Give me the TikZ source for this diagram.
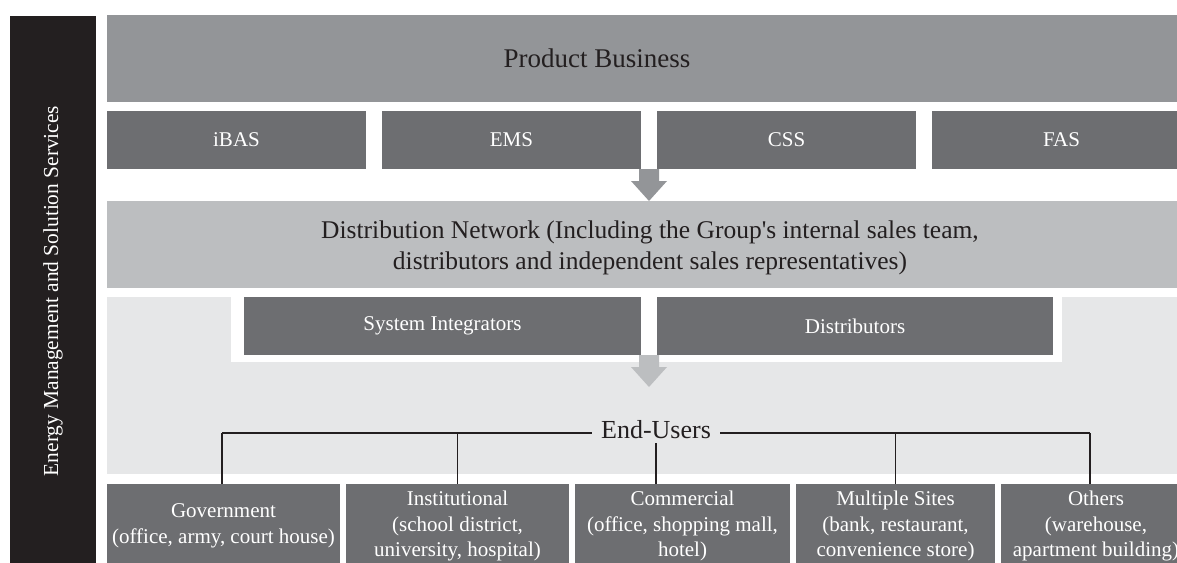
\documentclass[tikz,border=0pt]{standalone}
\usepackage{fontspec}
\setmainfont{Liberation Serif}[Ligatures=TeXOff]
\usetikzlibrary{positioning,calc}

\definecolor{barblack}{HTML}{231F20}
\definecolor{midgray}{HTML}{939598}
\definecolor{darkgray}{HTML}{6D6E71}
\definecolor{palegray}{HTML}{BCBEC0}
\definecolor{lightgray}{HTML}{E6E7E8}

\tikzset{
  panel/.style={draw=none,inner sep=0pt,outer sep=0pt},
  darkbox/.style={panel,fill=darkgray,text=white,align=center,
    font=\fontsize{21}{25.5}\selectfont},
  bigtext/.style={text=barblack,align=center,font=\fontsize{26}{31}\selectfont},
  tree/.style={draw=barblack,line width=1.2pt}
}
% block arrow hanging down from a point
\newcommand{\blockarr}[2]{%
  \fill[#1,shift={(#2)}] (-10,0) -- (10,0) -- (10,12) -- (18,12)
    -- (0,32) -- (-18,12) -- (-10,12) -- cycle;}

\begin{document}
\begin{tikzpicture}[x=1pt,y=-1pt]

    \useasboundingbox (0,0) rectangle (1177,562);
    \clip (0,0) rectangle (1177,562);

    % left bar
    \node[panel,fill=barblack,text=white,rotate=90,minimum width=551pt,
      minimum height=86pt,font=\fontsize{21.4}{25}\selectfont] (side) at (53,291)
      {Energy Management and Solution Services};

    % products
    \node[panel,fill=midgray,minimum width=1084pt,minimum height=87pt] (prod) at (649,58.5) {};
    \node[bigtext,font=\fontsize{27}{31}\selectfont] (prodtxt) at (597,58) {Product Business};
    \foreach \name/\lab [count=\i from 0] in {ibas/iBAS,ems/EMS,css/CSS,fas/FAS}
    \node[darkbox,minimum width=259pt,minimum height=58pt] (\name) at (236.5+275*\i,140) {\lab};

    % distribution
    \node[panel,fill=palegray,minimum width=1084pt,minimum height=87pt] (dnet) at (649,244.5) {};
    \node[bigtext,font=\fontsize{25.5}{31}\selectfont] (dnettxt) at (650,248)
      {Distribution Network (Including the Group's internal sales team,\\
       distributors and independent sales representatives)};

    % end users area
    \node[panel,fill=lightgray,minimum width=1084pt,minimum height=177pt] (users) at (649,385.5) {};
    \node[panel,fill=white,minimum width=831pt,minimum height=74pt] (chan) at (646.5,325) {};
    \node[darkbox,minimum width=397pt,minimum height=58pt] (si) at (442.5,326) {System Integrators};
    \node[darkbox,minimum width=396pt,minimum height=58pt] (dist) at (855,326) {Distributors};

    \coordinate (arrA) at ($(ems.south east)!.5!(css.south west)$);
    \coordinate (arrB) at ($(si.south east)!.5!(dist.south west)$);
    \blockarr{midgray}{arrA}
    \blockarr{palegray}{arrB}

    % end users
    \node[darkbox] (gov) at (223.5,526) [minimum width=233pt,minimum height=84pt]
      {Government\\(office, army, court house)};
    \node[darkbox] (inst) at (457.5,526) [minimum width=223pt,minimum height=84pt]
      {Institutional\\(school district,\\university, hospital)};
    \node[darkbox] (com) at (682.5,526) [minimum width=215pt,minimum height=84pt]
      {Commercial\\(office, shopping mall,\\hotel)};
    \node[darkbox] (mult) at (895.5,526) [minimum width=199pt,minimum height=84pt]
      {Multiple Sites\\(bank, restaurant,\\convenience store)};
    \node[darkbox] (oth) at (1096,526) [minimum width=190pt,minimum height=84pt]
      {Others\\(warehouse,\\apartment building)};

    \coordinate (busL) at (222,433);
    \coordinate (busR) at (1090,433);
    \draw[tree] (busL) -- (busR);
    \draw[tree] (busL) -- (busL |- gov.north);
    \draw[tree] (inst.north |- busL) -- (inst.north);
    \draw[tree] (mult.north |- busL) -- (mult.north);
    \draw[tree] (busR) -- (busR |- oth.north);
    \node[panel,fill=lightgray,bigtext,inner xsep=9.5pt,text height=17pt,text depth=5pt]
      (eu) at (656,432) {End-Users};
    \draw[tree] (eu.south) -- (eu.south |- com.north);

\end{tikzpicture}
\end{document}
